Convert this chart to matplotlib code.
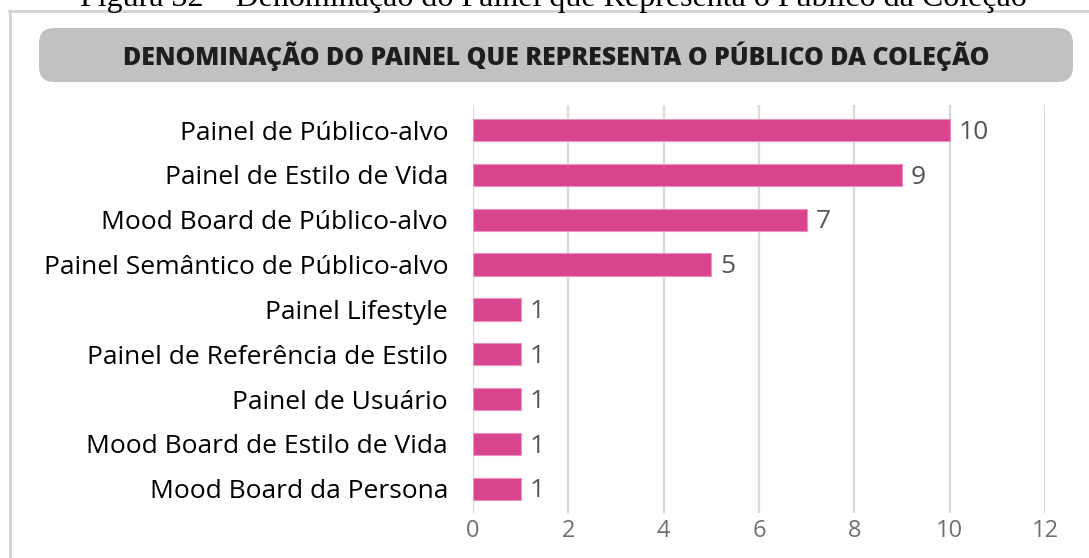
import numpy as np
import matplotlib.pyplot as plt
from matplotlib.patches import FancyBboxPatch
from matplotlib.lines import Line2D

# painel names and how many collections used each
categorias = [
    "Painel de Público-alvo",
    "Painel de Estilo de Vida",
    "Mood Board de Público-alvo",
    "Painel Semântico de Público-alvo",
    "Painel Lifestyle",
    "Painel de Referência de Estilo",
    "Painel de Usuário",
    "Mood Board de Estilo de Vida",
    "Mood Board da Persona",
]
valores = [10, 9, 7, 5, 1, 1, 1, 1, 1]
xticks = [0, 2, 4, 6, 8, 10, 12]

titulo = "DENOMINAÇÃO DO PAINEL QUE REPRESENTA O PÚBLICO DA COLEÇÃO"
legenda_fig = "Figura 32 – Denominação do Painel que Representa o Público da Coleção"

W, H = 1089, 558
fig = plt.figure(figsize=(W / 100, H / 100), dpi=100)
fig.patch.set_facecolor("white")

# caption above the frame (cut by the top of the page)
fig.text(0.508, 1 - 6 / H, legenda_fig, ha="center", va="baseline",
         family="Liberation Serif", fontsize=23, color="black")

# thin frame around the chart
fig.add_artist(Line2D([9 / W, 1], [1 - 10.5 / H] * 2, color="#d3d3d3", lw=2))
fig.add_artist(Line2D([9.5 / W] * 2, [0, 1 - 10.5 / H], color="#d3d3d3", lw=2))

# rounded grey title band
box = FancyBboxPatch((39 / W, 1 - 82 / H), (1073 - 39) / W, 54 / H,
                     boxstyle="round,pad=0,rounding_size=0.014",
                     transform=fig.transFigure, facecolor="#c1c1c1",
                     edgecolor="none", mutation_aspect=W / H)
fig.add_artist(box)
fig.text(556 / W, 1 - 56 / H, titulo, ha="center", va="center",
         family="Open Sans", fontweight="heavy", fontsize=17.9, color="#1e1e1e")

ax = fig.add_axes([473 / W, 1 - 513 / H, (1045 - 473) / W, (513 - 105) / H])
y = np.arange(len(categorias))
ax.barh(y, valores, height=0.5, color="#d9448f", edgecolor="#ef8fbf",
        linewidth=0.8, zorder=3)

for yi, v in zip(y, valores):
    ax.annotate(str(v), (v, yi), xytext=(6.5, -1.5), textcoords="offset points",
                va="center", ha="left", family="Open Sans", fontsize=19,
                color="#555555")

ax.set_xlim(0, 12)
ax.set_ylim(8.54, -0.56)
ax.set_xticks(xticks)
ax.set_xticklabels([str(t) for t in xticks], family="Open Sans",
                   fontsize=17, color="#707070")
ax.set_yticks(y)
ax.set_yticklabels(categorias, family="Open Sans", fontweight="medium",
                   fontsize=19, color="#000000")
ax.tick_params(axis="both", length=0)
ax.tick_params(axis="y", pad=18)
ax.tick_params(axis="x", pad=4)
ax.grid(axis="x", color="#d9d9d9", lw=1.6, zorder=0)
for s in ax.spines.values():
    s.set_visible(False)

fig.savefig("out.png", dpi=100)
